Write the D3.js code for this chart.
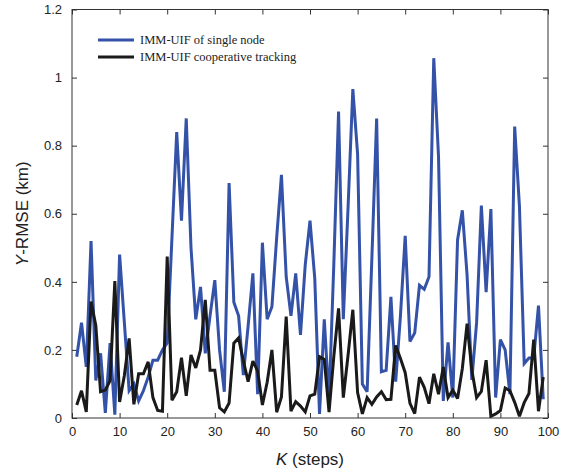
<!DOCTYPE html>
<html>
<head>
<meta charset="utf-8">
<script src="https://cdn.jsdelivr.net/npm/d3@7.9.0/dist/d3.min.js"></script>
<style>
  body { margin: 0; background: #fff; }
  svg { display: block; }
  .axis text { font-family: "Liberation Sans", Arial, sans-serif; font-size: 13px; fill: #222; }
  .axis path, .axis line { stroke: #333; }
</style>
</head>
<body>
<div id="chart"></div>
<script>
const steps = d3.range(1, 100);

const singleNode = [
  0.18, 0.28, 0.15, 0.52, 0.11, 0.19, 0.015, 0.22, 0.01, 0.48,
  0.28, 0.08, 0.10, 0.05, 0.08, 0.12, 0.17, 0.17, 0.20, 0.22,
  0.53, 0.84, 0.58, 0.88, 0.50, 0.29, 0.385, 0.19, 0.30, 0.405,
  0.20, 0.077, 0.69, 0.34, 0.30, 0.126, 0.27, 0.425, 0.07, 0.515,
  0.29, 0.327, 0.53, 0.714, 0.415, 0.30, 0.425, 0.244, 0.45, 0.58,
  0.41, 0.012, 0.29, 0.05, 0.45, 0.90, 0.29, 0.62, 0.966, 0.775,
  0.10, 0.077, 0.47, 0.88, 0.136, 0.14, 0.356, 0.107, 0.30, 0.535,
  0.225, 0.25, 0.39, 0.378, 0.415, 1.057, 0.768, 0.05, 0.222, 0.06,
  0.523, 0.61, 0.42, 0.112, 0.28, 0.624, 0.37, 0.614, 0.06, 0.23,
  0.20, 0.07, 0.856, 0.622, 0.16, 0.176, 0.176, 0.33, 0.055
];

const cooperative = [
  0.038, 0.08, 0.018, 0.342, 0.272, 0.077, 0.082, 0.11, 0.402, 0.047,
  0.125, 0.234, 0.04, 0.13, 0.13, 0.165, 0.06, 0.022, 0.02, 0.474,
  0.052, 0.077, 0.177, 0.065, 0.185, 0.147, 0.2, 0.347, 0.14, 0.14,
  0.03, 0.018, 0.044, 0.22, 0.235, 0.168, 0.107, 0.167, 0.138, 0.038,
  0.105, 0.2, 0.017, 0.062, 0.298, 0.02, 0.048, 0.035, 0.018, 0.065,
  0.07, 0.18, 0.172, 0.017, 0.18, 0.322, 0.06, 0.185, 0.318, 0.075,
  0.012, 0.06, 0.04, 0.062, 0.077, 0.054, 0.055, 0.213, 0.175, 0.133,
  0.043, 0.013, 0.12, 0.09, 0.042, 0.13, 0.07, 0.15, 0.06, 0.082,
  0.057, 0.145, 0.277, 0.14, 0.06, 0.078, 0.17, 0.005, 0.012, 0.022,
  0.088, 0.08, 0.046, 0.005, 0.045, 0.072, 0.23, 0.02, 0.12
];

const xTicks = d3.range(0, 101, 10);
const yTicks = [0, 0.2, 0.4, 0.6, 0.8, 1, 1.2];

const seriesNames = ["IMM-UIF of single node", "IMM-UIF cooperative tracking"];
const seriesColors = ["#3352a8", "#1a1a1a"];

const width = 568, height = 473;
const margin = { top: 9.5, right: 20, bottom: 55, left: 72 };

const svg = d3.select("#chart").append("svg")
  .attr("width", width)
  .attr("height", height);

const x = d3.scaleLinear().domain([0, 100]).range([margin.left, width - margin.right]);
const y = d3.scaleLinear().domain([0, 1.2]).range([height - margin.bottom, margin.top]);

const tickLen = 5;

// bottom / top
svg.append("g").attr("class", "axis")
  .attr("transform", `translate(0,${y(0)})`)
  .call(d3.axisBottom(x).tickValues(xTicks).tickSizeInner(-tickLen).tickSizeOuter(0).tickPadding(9))
  .call(g => g.selectAll("text").attr("dy", "0.71em"));
svg.append("g").attr("class", "axis")
  .attr("transform", `translate(0,${y(1.2)})`)
  .call(d3.axisTop(x).tickValues(xTicks).tickSizeInner(-tickLen).tickSizeOuter(0).tickFormat(""));

// left / right
svg.append("g").attr("class", "axis")
  .attr("transform", `translate(${x(0)},0)`)
  .call(d3.axisLeft(y).tickValues(yTicks).tickSizeInner(-tickLen).tickSizeOuter(0).tickPadding(10)
    .tickFormat(d => d3.format("~g")(d)));
svg.append("g").attr("class", "axis")
  .attr("transform", `translate(${x(100)},0)`)
  .call(d3.axisRight(y).tickValues(yTicks).tickSizeInner(-tickLen).tickSizeOuter(0).tickFormat(""));

svg.selectAll(".axis .domain").remove();
svg.append("rect")
  .attr("x", x(0)).attr("y", y(1.2))
  .attr("width", x(100) - x(0)).attr("height", y(0) - y(1.2))
  .attr("fill", "none").attr("stroke", "#333").attr("stroke-width", 1);

const line = d3.line()
  .x((d, i) => x(steps[i]))
  .y(d => y(d));

const clip = svg.append("clipPath").attr("id", "clip")
  .append("rect")
  .attr("x", x(0)).attr("y", y(1.2))
  .attr("width", x(100) - x(0)).attr("height", y(0) - y(1.2));

const plot = svg.append("g").attr("clip-path", "url(#clip)");
[singleNode, cooperative].forEach((s, i) => {
  plot.append("path")
    .datum(s)
    .attr("d", line)
    .attr("fill", "none")
    .attr("stroke", seriesColors[i])
    .attr("stroke-width", 3)
    .attr("stroke-linejoin", "miter")
    .attr("stroke-miterlimit", 3);
});

// legend
const legend = svg.append("g").attr("transform", "translate(98,40)");
seriesNames.forEach((name, i) => {
  const g = legend.append("g").attr("transform", `translate(0,${i * 17})`);
  g.append("line")
    .attr("x1", 0).attr("x2", 36)
    .attr("stroke", seriesColors[i]).attr("stroke-width", 3);
  g.append("text")
    .attr("x", 42).attr("y", 0).attr("dy", "0.35em")
    .style("font-family", "'Liberation Serif', 'Times New Roman', serif")
    .style("font-size", "12.5px")
    .attr("fill", "#222")
    .text(name);
});

// axis titles
const xt = svg.append("text")
  .attr("x", (x(0) + x(100)) / 2)
  .attr("y", 465)
  .attr("text-anchor", "middle")
  .style("font-family", "'Liberation Sans', Arial, sans-serif")
  .style("font-size", "17px")
  .attr("fill", "#222");
xt.append("tspan").style("font-style", "italic").text("K");
xt.append("tspan").text(" (steps)");

const yt = svg.append("text")
  .attr("transform", `translate(28,${(y(0) + y(1.2)) / 2}) rotate(-90)`)
  .attr("text-anchor", "middle")
  .style("font-family", "'Liberation Sans', Arial, sans-serif")
  .style("font-size", "17px")
  .attr("fill", "#222");
yt.append("tspan").style("font-style", "italic").text("Y");
yt.append("tspan").text("-RMSE (km)");
</script>
</body>
</html>
